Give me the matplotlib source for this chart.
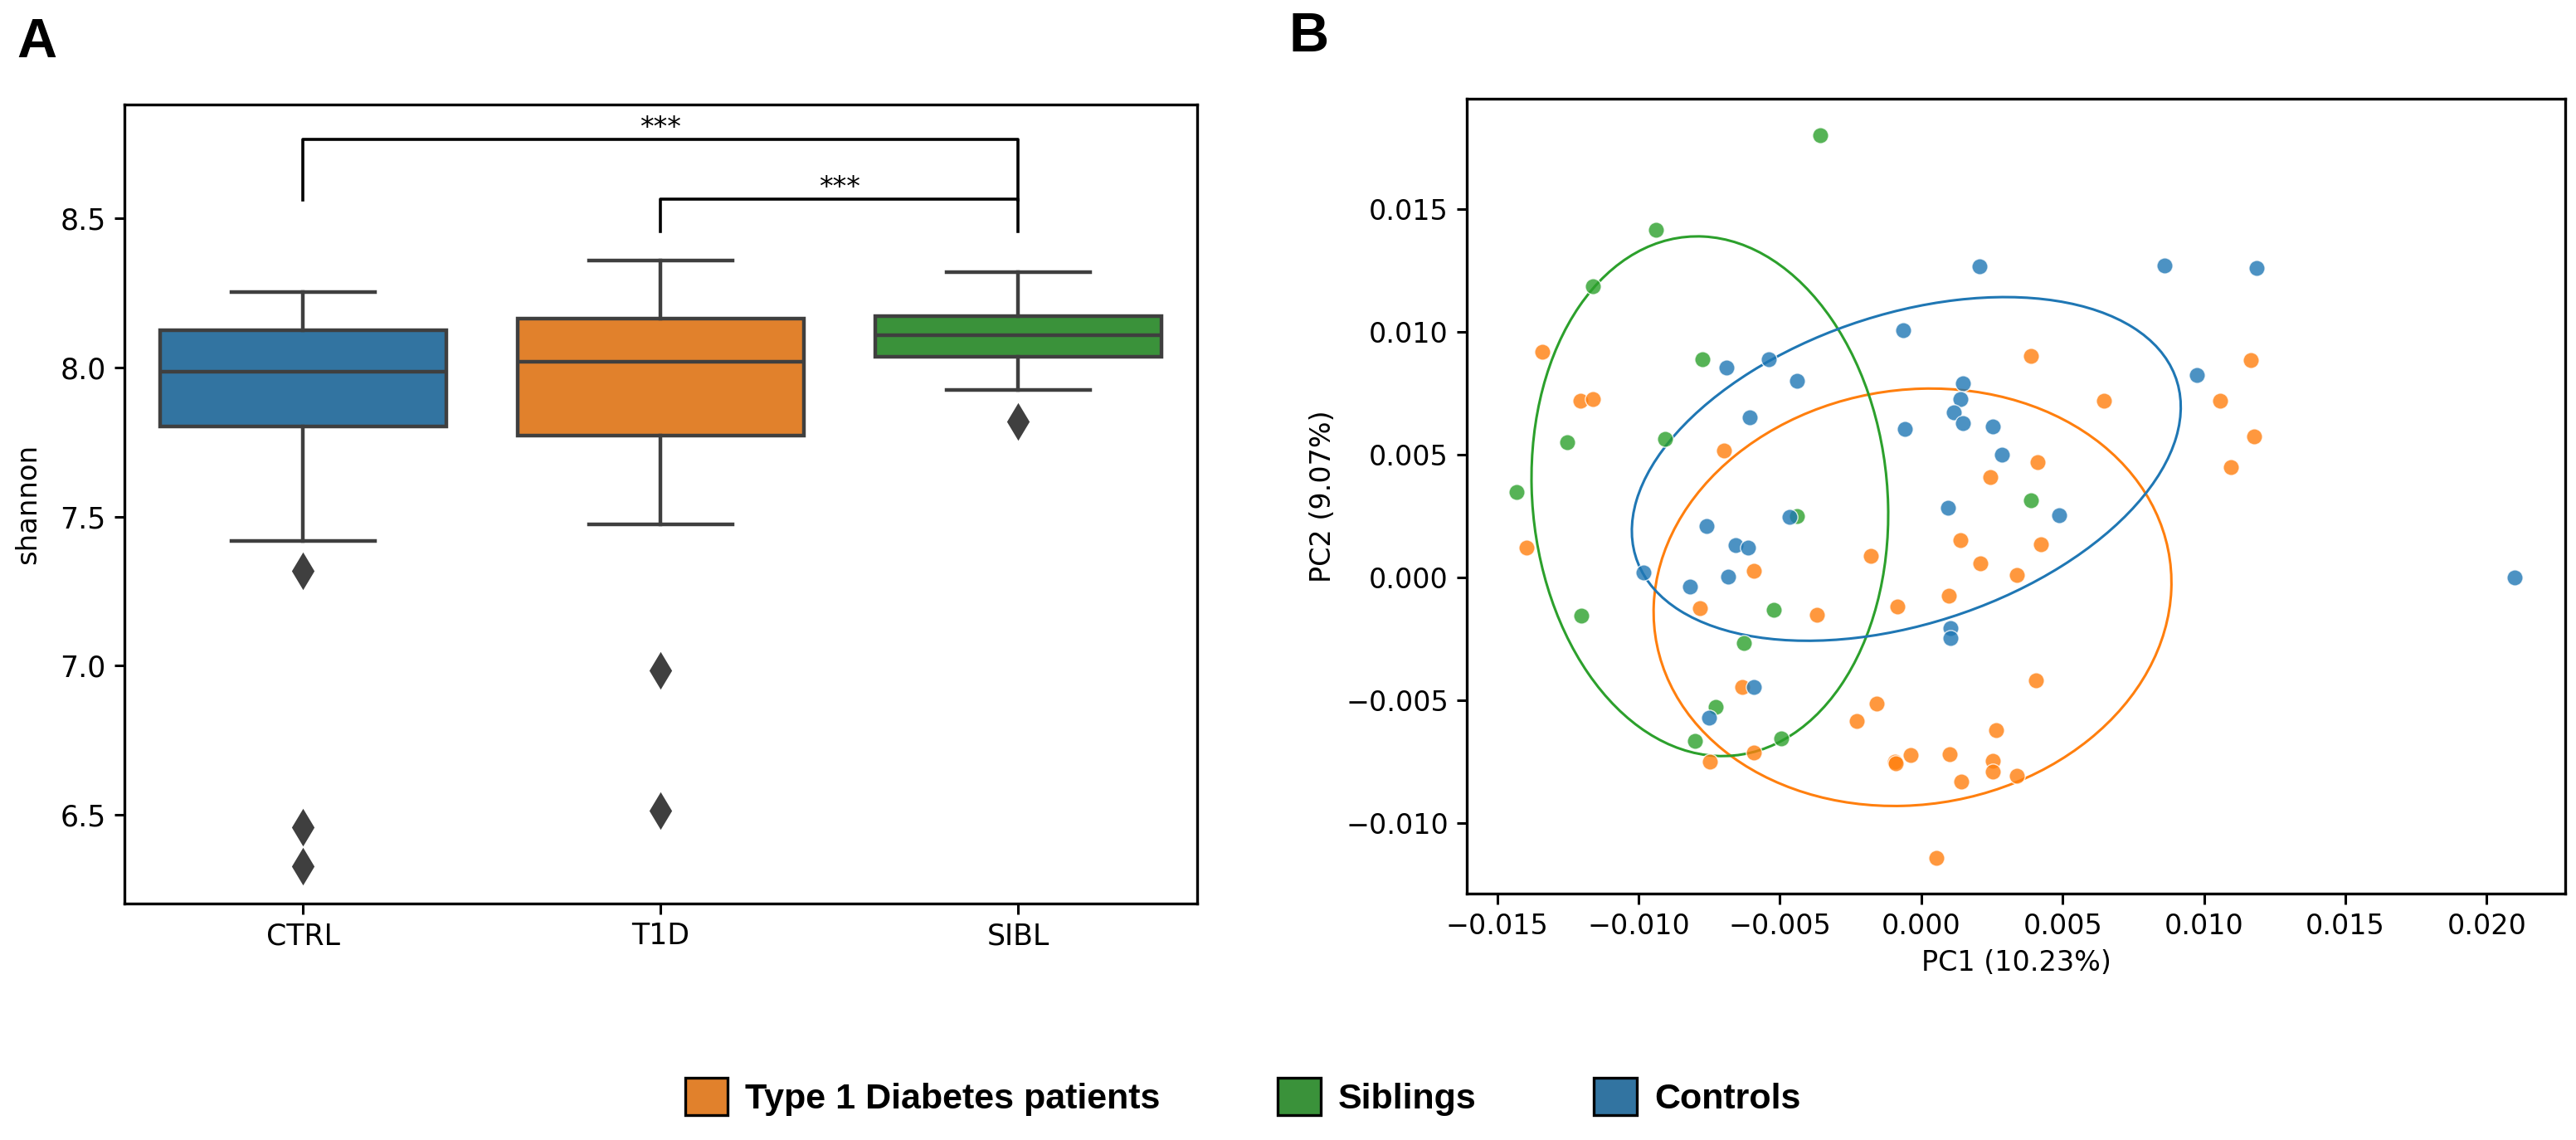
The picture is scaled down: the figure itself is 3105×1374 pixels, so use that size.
import numpy as np
import matplotlib
matplotlib.use("Agg")
import matplotlib.pyplot as plt
import matplotlib.transforms as transforms
from matplotlib.patches import Ellipse, Patch

plt.rcParams['font.family'] = ['DejaVu Sans']
plt.rcParams['axes.linewidth'] = 1.2
plt.rcParams['xtick.major.width'] = 1.1
plt.rcParams['ytick.major.width'] = 1.1
plt.rcParams['xtick.major.size'] = 4.5
plt.rcParams['ytick.major.size'] = 4.5

# ---- panel A: shannon diversity (box stats) ----
groups = ['CTRL', 'T1D', 'SIBL']
box_colors = ['#3274a1', '#e1812c', '#3a923a']
whis_lo = [7.418, 7.474, 7.925]
q1 = [7.803, 7.771, 8.035]
med = [7.984, 8.018, 8.108]
q3 = [8.124, 8.163, 8.172]
whis_hi = [8.252, 8.359, 8.318]
fliers = [[7.318, 6.457, 6.328], [6.985, 6.514], [7.818]]

# significance brackets: (x1, x2, line y, leg bottom, text x)
brackets = [(0, 2, 8.764, 8.561, 1.0), (1, 2, 8.564, 8.455, 1.5)]
sig_text = '***'

# ---- panel B: PCoA scores ----
ctrl_x = [0.00205, -0.00064, -0.00690, -0.00540, -0.00439, 0.00147, 0.00137, 0.00116,
          0.00147, -0.00608, -0.00058, 0.00253, 0.00286, 0.00861, 0.01185, 0.00976,
          0.00093, -0.00759, -0.00467, -0.00658, -0.00614, -0.00983, -0.00684, -0.00817,
          0.00103, 0.00103, -0.00592, -0.00751, 0.00489, 0.02100]
ctrl_y = [0.01266, 0.01005, 0.00855, 0.00889, 0.00799, 0.00791, 0.00726, 0.00671,
          0.00628, 0.00651, 0.00604, 0.00615, 0.00499, 0.01270, 0.01260, 0.00825,
          0.00285, 0.00209, 0.00246, 0.00131, 0.00123, 0.00020, 0.00003, -0.00036,
          -0.00207, -0.00246, -0.00446, -0.00569, 0.00255, 0.00002]

t1d_x = [-0.01342, -0.01205, -0.01161, -0.00697, 0.00245, 0.00389, 0.01167, 0.00646,
         0.01058, 0.01177, 0.01095, 0.00410, -0.01397, -0.00178, -0.00592, 0.00137,
         0.00210, 0.00338, 0.00097, -0.00085, -0.00783, -0.00369, -0.00633, -0.00158,
         -0.00227, 0.00265, -0.00591, -0.00747, -0.00094, -0.00090, -0.00038, 0.00099,
         0.00252, 0.00252, 0.00140, 0.00338, 0.00052, 0.00423, 0.00406]
t1d_y = [0.00918, 0.00718, 0.00727, 0.00516, 0.00409, 0.00901, 0.00885, 0.00720,
         0.00720, 0.00574, 0.00448, 0.00471, 0.00123, 0.00089, 0.00026, 0.00151,
         0.00058, 0.00011, -0.00073, -0.00118, -0.00126, -0.00151, -0.00446, -0.00513,
         -0.00585, -0.00621, -0.00713, -0.00750, -0.00748, -0.00756, -0.00722, -0.00720,
         -0.00745, -0.00790, -0.00831, -0.00806, -0.01140, 0.00134, -0.00417]

sibl_x = [-0.00359, -0.00938, -0.01163, -0.00773, -0.01253, -0.00906, -0.01432, -0.00439,
          -0.01204, -0.00521, -0.00629, -0.00728, -0.00802, -0.00497, 0.00389]
sibl_y = [0.01801, 0.01416, 0.01185, 0.00889, 0.00550, 0.00563, 0.00347, 0.00250,
          -0.00154, -0.00132, -0.00267, -0.00526, -0.00663, -0.00653, 0.00316]

# ellipses: centre x, centre y, half extent x, half extent y, correlation
ell_t1d = [-0.00031, -0.00080, 0.00916, 0.00849, 0.07]
ell_sibl = [-0.00748, 0.00331, 0.00631, 0.01057, -0.07]
ell_ctrl = [-0.00053, 0.00442, 0.00971, 0.00699, 0.36]

legend_labels = ['Type 1 Diabetes patients', 'Siblings', 'Controls']


def conf_ellipse(ax, cx, cy, hx, hy, rho, color):
    ell = Ellipse((0, 0), width=2 * np.sqrt(1 + rho), height=2 * np.sqrt(1 - rho),
                  facecolor='none', edgecolor=color, linewidth=1.1)
    tr = transforms.Affine2D().rotate_deg(45).scale(hx, hy).translate(cx, cy)
    ell.set_transform(tr + ax.transData)
    ax.add_patch(ell)


fig = plt.figure(figsize=(15.525, 6.87), dpi=200)
axA = fig.add_axes([0.0483, 0.2074, 0.4164, 0.7009])
axB = fig.add_axes([0.5694, 0.2158, 0.4264, 0.6974])

# --- box plot ---
stats = []
for i in range(len(groups)):
    stats.append({'med': med[i], 'q1': q1[i], 'q3': q3[i],
                  'whislo': whis_lo[i], 'whishi': whis_hi[i], 'fliers': fliers[i]})
line_col = '#3f3f3f'
bp = axA.bxp(stats, positions=range(len(groups)), widths=0.8, patch_artist=True,
             boxprops=dict(edgecolor=line_col, linewidth=1.6),
             whiskerprops=dict(color=line_col, linewidth=1.6),
             capprops=dict(color=line_col, linewidth=1.6),
             medianprops=dict(color=line_col, linewidth=1.6),
             flierprops=dict(marker='d', markersize=10, markerfacecolor=line_col,
                             markeredgecolor=line_col))
for patch, c in zip(bp['boxes'], box_colors):
    patch.set_facecolor(c)

for x1, x2, yl, yb, tx in brackets:
    axA.plot([x1, x1, x2, x2], [yb, yl, yl, yb], color='black', lw=1.3)
    axA.text(tx, yl + 0.012, sig_text, ha='center', va='baseline', fontsize=12)

axA.set_xlim(-0.5, 2.5)
axA.set_ylim(6.2024, 8.881)
axA.set_yticks([6.5, 7.0, 7.5, 8.0, 8.5])
axA.set_xticks(range(len(groups)))
axA.set_xticklabels(groups)
axA.set_ylabel('shannon', fontsize=12.2, labelpad=8)
axA.tick_params(labelsize=12.5)

# --- PCoA scatter ---
blue, orange, green = '#1f77b4', '#ff7f0e', '#2ca02c'
axB.scatter(t1d_x, t1d_y, s=48, color=orange, alpha=0.8, edgecolors='white', linewidths=0.5, zorder=3)
axB.scatter(sibl_x, sibl_y, s=48, color=green, alpha=0.8, edgecolors='white', linewidths=0.5, zorder=3)
axB.scatter(ctrl_x, ctrl_y, s=48, color=blue, alpha=0.8, edgecolors='white', linewidths=0.5, zorder=3)
conf_ellipse(axB, *ell_t1d, orange)
conf_ellipse(axB, *ell_sibl, green)
conf_ellipse(axB, *ell_ctrl, blue)

axB.set_xlim(-0.01608, 0.02278)
axB.set_ylim(-0.01287, 0.01947)
axB.set_xticks([-0.015, -0.010, -0.005, 0.000, 0.005, 0.010, 0.015, 0.020])
axB.set_yticks([-0.010, -0.005, 0.000, 0.005, 0.010, 0.015])
axB.set_xlabel('PC1 (10.23%)', fontsize=12)
axB.set_ylabel('PC2 (9.07%)', fontsize=12)
axB.tick_params(labelsize=12)

# panel letters
fig.text(0.0064, 0.9847, 'A', fontsize=24, fontweight='bold', family='Liberation Sans', va='top', ha='left')
fig.text(0.5002, 0.990, 'B', fontsize=24, fontweight='bold', family='Liberation Sans', va='top', ha='left')

# shared legend
handles = [Patch(facecolor=c, edgecolor='black', linewidth=1.2) for c in [box_colors[1], box_colors[2], box_colors[0]]]
fig.legend(handles, legend_labels, loc='center', bbox_to_anchor=(0.4824, 0.038), ncol=3,
           frameon=False, handlelength=1.2, handleheight=1.22, handletextpad=0.48,
           columnspacing=3.3, prop={'family': 'Liberation Sans', 'weight': 'bold', 'size': 15.5})

fig.savefig('out.png', dpi=200)
